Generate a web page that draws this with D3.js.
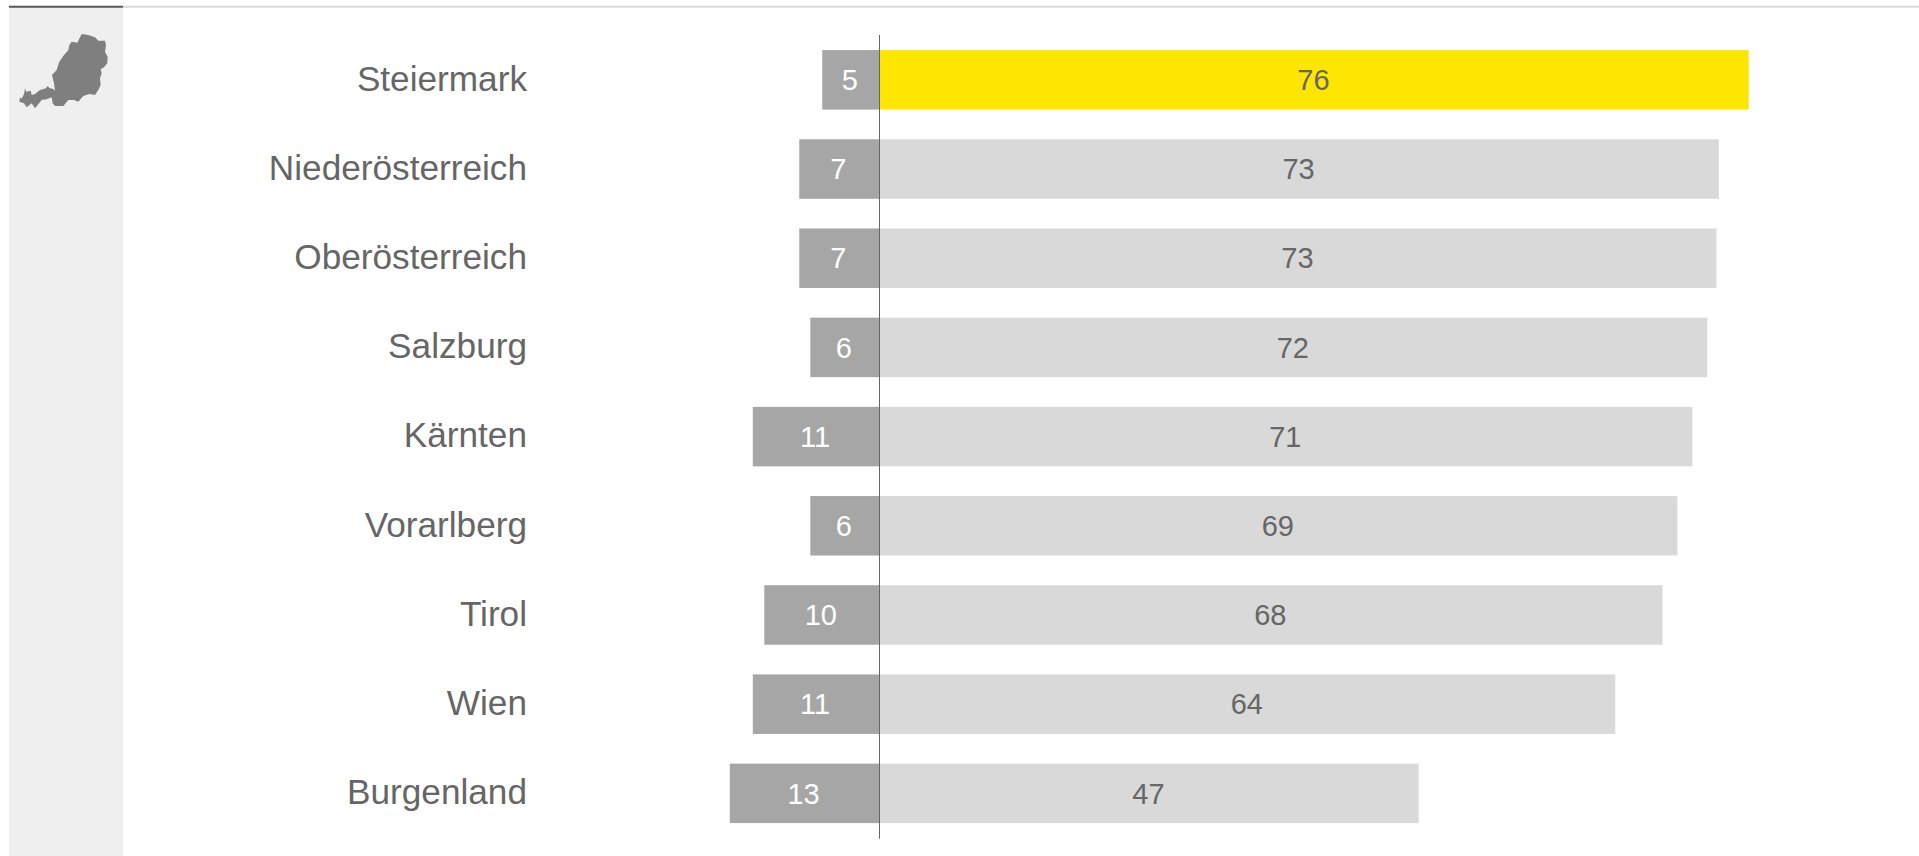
<!DOCTYPE html>
<html><head><meta charset="utf-8">
<script src="https://cdn.jsdelivr.net/npm/d3@7"></script>
<style>html,body{margin:0;padding:0;background:#fff;overflow:hidden}svg{display:block}text{font-family:"Liberation Sans",Arial,sans-serif}</style>
</head><body><svg id="c" width="1919" height="856"></svg>
<script>
const categories=["Steiermark","Niederösterreich","Oberösterreich","Salzburg","Kärnten","Vorarlberg","Tirol","Wien","Burgenland"];
const positiveValues=[75.6,73.0,72.8,72.0,70.7,69.4,68.1,64.0,46.9];
const negativeValues=[4.96,6.96,6.96,6,11,6,10,11,13];
const highlighted=["Steiermark"];

const svg=d3.select("#c");
svg.append("rect").attr("x",9).attr("y",7).attr("width",114).attr("height",849).attr("fill","#EFEFEF");
svg.append("line").attr("x1",123).attr("x2",1919).attr("y1",6.7).attr("y2",6.7).attr("stroke","#D9D9D9").attr("stroke-width",2);
svg.append("line").attr("x1",9).attr("x2",123).attr("y1",6.7).attr("y2",6.7).attr("stroke","#595959").attr("stroke-width",2);
svg.append("path").attr("fill","#7F7F7F").attr("transform","translate(0,20) scale(0.3333)")
  .attr("d","M58 245L60 232L65 236L72 222L75 204L78 215L92 212L95 225L105 222L120 210L138 205L142 198L150 205L160 207L165 212L162 190L156 165L170 150L178 125L192 105L197 100L205 90L208 75L215 65L232 68L245 42L265 45L285 52L295 62L315 62L318 75L315 95L323 110L322 130L312 142L302 148L305 160L300 175L302 195L295 210L285 225L268 222L250 228L235 245L222 240L205 240L190 258L165 258L158 250L155 232L140 238L125 240L105 265L95 250L80 262L72 250Z");

const x=d3.scaleLinear().domain([0,1]).range([879.3,890.8]);
const y=d3.scaleBand().domain(categories).range([35.2,838]).paddingInner(0.333).paddingOuter(0.167);

const rows=svg.selectAll("g.r").data(categories).join("g").attr("class","r");
rows.append("rect").attr("x",(d,i)=>x(-negativeValues[i])).attr("y",d=>y(d)).attr("width",(d,i)=>x(0)-x(-negativeValues[i])).attr("height",y.bandwidth()).attr("fill","#A6A6A6");
rows.append("rect").attr("x",x(0)).attr("y",d=>y(d)).attr("width",(d,i)=>x(positiveValues[i])-x(0)).attr("height",y.bandwidth()).attr("fill",d=>highlighted.includes(d)?"#FFE600":"#D9D9D9");
rows.append("text").attr("x",527).attr("y",d=>y(d)+y.bandwidth()/2-1.5).attr("dy","0.35em").attr("text-anchor","end").attr("font-size",35.2).attr("fill","#666666").text(d=>d);
rows.append("text").attr("x",(d,i)=>x(-negativeValues[i]/2)-1).attr("y",d=>y(d)+y.bandwidth()/2).attr("dy","0.35em").attr("text-anchor","middle").attr("font-size",29).attr("fill","#FFFFFF").text((d,i)=>d3.format(".0f")(negativeValues[i]));
rows.append("text").attr("x",(d,i)=>x(positiveValues[i]/2)-0.5).attr("y",d=>y(d)+y.bandwidth()/2).attr("dy","0.35em").attr("text-anchor","middle").attr("font-size",29).attr("fill","#666666").text((d,i)=>d3.format(".0f")(positiveValues[i]));
svg.append("line").attr("x1",879.5).attr("x2",879.5).attr("y1",35).attr("y2",838.7).attr("stroke","#666666").attr("stroke-width",1);
</script></body></html>
